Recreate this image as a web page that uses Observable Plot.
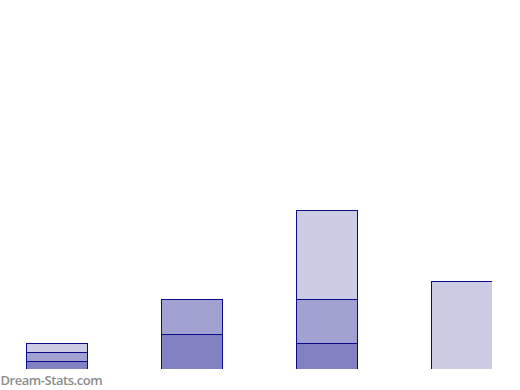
<!DOCTYPE html>
<html>
<head>
<meta charset="utf-8">
<script src="https://cdn.jsdelivr.net/npm/d3@7"></script>
<script src="https://cdn.jsdelivr.net/npm/@observablehq/plot@0.6"></script>
<style>
  html, body { margin: 0; padding: 0; background: #fff; }
  .wm text { letter-spacing: -0.45px; }
</style>
</head>
<body>
<div id="chart"></div>
<script>
const categories = ["1", "2", "3", "4"];
const seriesNames = ["Series 1", "Series 2", "Series 3"];
const series1 = [0.8, 3.5, 2.6, 0];
const series2 = [0.9, 3.5, 4.4, 0];
const series3 = [0.9, 0, 8.9, 8.8];
const seriesColors = ["#8282c2", "#a2a2d2", "#ccccE4"];
const watermark = "Dream-Stats.com";

const allSeries = [series1, series2, series3];
const rows = [];
allSeries.forEach((vals, s) => {
  vals.forEach((v, i) => rows.push({cat: categories[i], series: seriesNames[s], value: v}));
});

const chart = Plot.plot({
  width: 520,
  height: 390,
  marginLeft: 0,
  marginRight: 28,
  marginTop: 0,
  marginBottom: 21,
  style: {background: "#fff", overflow: "visible"},
  x: {type: "band", domain: categories, range: [25, 493], paddingInner: 0.55, paddingOuter: 0, axis: null},
  y: {domain: [0, 36.9], axis: null},
  color: {domain: seriesNames, range: seriesColors},
  marks: [
    Plot.barY(rows.filter(d => d.value > 0), {
      x: "cat", y: "value", fill: "series", order: seriesNames,
      stroke: "#0a0a8a", strokeWidth: 1, clip: "frame", inset: 0,
      shapeRendering: "crispEdges"
    }),
    Plot.text([watermark], {
      text: d => d, frameAnchor: "bottom-left", lineAnchor: "bottom", dx: 0, dy: 15,
      textAnchor: "start", fill: "#8c8c8c", fontSize: 13, fontWeight: 600,
      fontFamily: "Open Sans", className: "wm"
    })
  ]
});
document.getElementById("chart").appendChild(chart);
</script>
</body>
</html>
